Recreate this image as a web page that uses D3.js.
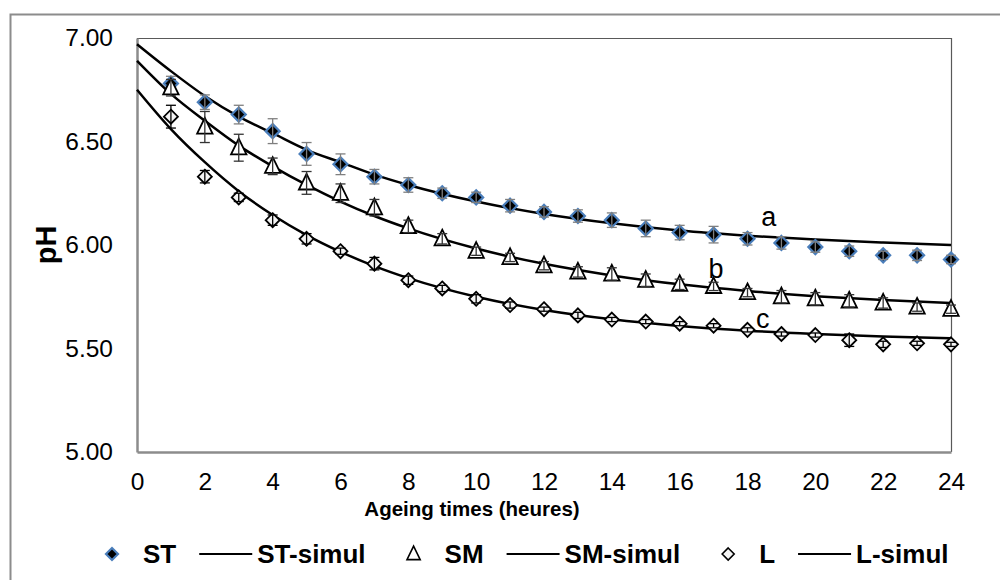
<!DOCTYPE html>
<html>
<head>
<meta charset="utf-8">
<script src="https://cdn.jsdelivr.net/npm/d3@7/dist/d3.min.js"></script>
<style>
	body { margin: 0; background: #fff; }
	svg { display: block; font-family: 'Liberation Sans', Arial, sans-serif; }
</style>
</head>
<body>
<svg id="chart" width="1000" height="580"></svg>
<script>
// measured hours
const hours = d3.range(1, 25);

// observed pH (means) and error bars
const stValues = [6.78, 6.69, 6.63, 6.55, 6.44, 6.39, 6.33, 6.29, 6.25, 6.23, 6.19, 6.16, 6.14, 6.12, 6.08, 6.06, 6.05, 6.03, 6.01, 5.99, 5.97, 5.95, 5.95, 5.93];
const stErr = [0.035, 0.035, 0.045, 0.06, 0.055, 0.05, 0.035, 0.035, 0.025, 0.025, 0.03, 0.025, 0.03, 0.035, 0.04, 0.035, 0.04, 0.03, 0.03, 0.025, 0.025, 0.02, 0.025, 0.02];

const smValues = [6.76, 6.57, 6.47, 6.38, 6.30, 6.25, 6.18, 6.09, 6.03, 5.97, 5.94, 5.90, 5.87, 5.86, 5.83, 5.81, 5.80, 5.77, 5.75, 5.74, 5.73, 5.72, 5.70, 5.69];
const smErr = [0.04, 0.075, 0.065, 0.04, 0.055, 0.045, 0.04, 0.03, 0.025, 0.02, 0.02, 0.02, 0.025, 0.03, 0.03, 0.025, 0.02, 0.02, 0.03, 0.03, 0.03, 0.025, 0.02, 0.02];

const lValues = [6.62, 6.33, 6.23, 6.12, 6.03, 5.97, 5.91, 5.83, 5.79, 5.74, 5.71, 5.69, 5.66, 5.64, 5.63, 5.62, 5.61, 5.59, 5.57, 5.565, 5.54, 5.52, 5.525, 5.52];
const lErr = [0.055, 0.03, 0.02, 0.025, 0.025, 0.015, 0.03, 0.02, 0.015, 0.02, 0.015, 0.01, 0.015, 0.01, 0.01, 0.01, 0.01, 0.01, 0.01, 0.01, 0.03, 0.015, 0.01, 0.01];

// simulated curves
const simHours = [0, 1, 2, 3, 4, 5, 6, 7, 8, 10, 12, 14, 16, 18, 20, 22, 24];
const stSimul = [6.97, 6.84, 6.72, 6.62, 6.54, 6.46, 6.40, 6.34, 6.29, 6.21, 6.15, 6.105, 6.07, 6.045, 6.026, 6.012, 6.00];
const smSimul = [6.89, 6.73, 6.60, 6.48, 6.38, 6.29, 6.21, 6.14, 6.08, 5.983, 5.909, 5.853, 5.81, 5.778, 5.753, 5.734, 5.72];
const lSimul = [6.75, 6.56, 6.40, 6.26, 6.145, 6.048, 5.967, 5.898, 5.84, 5.75, 5.686, 5.641, 5.609, 5.586, 5.57, 5.558, 5.55];

const xTicks = d3.range(0, 25, 2);
const yTicks = [5.0, 5.5, 6.0, 6.5, 7.0];

// letters next to the curves (position = hour, pH of the baseline)
const curveLabels = [
	{ text: 'a', hour: 18.63, value: 6.09 },
	{ text: 'b', hour: 17.07, value: 5.84 },
	{ text: 'c', hour: 18.45, value: 5.60 },
];

const series = [
	{ name: 'ST', values: stValues, err: stErr, symbol: 'diamond', fill: '#000', stroke: '#4a7ebb', errColor: '#7f7f7f' },
	{ name: 'SM', values: smValues, err: smErr, symbol: 'triangle', fill: '#fff', stroke: '#000', errColor: '#333' },
	{ name: 'L', values: lValues, err: lErr, symbol: 'diamond', fill: '#f4f4f4', stroke: '#000', errColor: '#000' },
];
const simulSeries = [
	{ name: 'ST-simul', values: stSimul },
	{ name: 'SM-simul', values: smSimul },
	{ name: 'L-simul', values: lSimul },
];

const svg = d3.select('#chart');
const plot = { left: 137, top: 38, right: 951, bottom: 452 };

const x = d3.scaleLinear().domain([0, 24]).range([plot.left, plot.right]);
const y = d3.scaleLinear().domain([5, 7]).range([plot.bottom, plot.top]);

// outer chart frame
svg.append('rect')
	.attr('x', 10.5).attr('y', 14.5)
	.attr('width', 1000).attr('height', 600)
	.attr('fill', 'none')
	.attr('stroke', '#8c8c8c')
	.attr('stroke-width', 2);

// plot area frame: thin top/right, heavier left/bottom axis lines
svg.append('path')
	.attr('d', `M${plot.left},${plot.top + 0.5}H${plot.right + 0.5}V${plot.bottom}`)
	.attr('fill', 'none')
	.attr('stroke', '#595959')
	.attr('stroke-width', 1.2);

// axes
const yAxis = svg.append('g')
	.attr('transform', `translate(${plot.left},0)`)
	.call(d3.axisLeft(y).tickValues(yTicks).tickFormat(d3.format('.2f')).tickSize(0).tickPadding(24));
const xAxis = svg.append('g')
	.attr('transform', `translate(0,${plot.bottom})`)
	.call(d3.axisBottom(x).tickValues(xTicks).tickFormat(d3.format('d')).tickSize(0).tickPadding(21));

[yAxis, xAxis].forEach((ax) => {
	ax.select('.domain').attr('stroke', '#8c8c8c').attr('stroke-width', 2.5);
	ax.selectAll('text')
		.attr('font-family', "'Liberation Sans', Arial, sans-serif")
		.attr('font-size', 24.5)
		.attr('fill', '#000');
});

// axis titles
svg.append('text')
	.attr('transform', 'translate(56,245) rotate(-90)')
	.attr('text-anchor', 'middle')
	.attr('font-size', 29)
	.attr('font-weight', 'bold')
	.text('pH');

svg.append('text')
	.attr('x', 472)
	.attr('y', 516)
	.attr('text-anchor', 'middle')
	.attr('font-size', 20.5)
	.attr('font-weight', 'bold')
	.text('Ageing times (heures)');

// simulated curves
const line = d3.line()
	.x((d, i) => x(simHours[i]))
	.y((d) => y(d))
	.curve(d3.curveMonotoneX);

svg.append('g')
	.selectAll('.simul')
	.data(simulSeries)
	.join('path')
	.attr('class', 'simul')
	.attr('d', (s) => line(s.values))
	.attr('fill', 'none')
	.attr('stroke', '#000')
	.attr('stroke-width', 2.5);

// markers
function symbolPath(type, size) {
	if (type === 'triangle') {
		const h = size * 1.05;
		return `M0,${-h * 0.62}L${size * 0.55},${h * 0.45}L${-size * 0.55},${h * 0.45}Z`;
	}
	return `M0,${-size / 2}L${size / 2},0L0,${size / 2}L${-size / 2},0Z`;
}

const groups = svg.append('g')
	.selectAll('.series')
	.data(series)
	.join('g')
	.attr('class', 'series');

groups.selectAll('.marker')
	.data((s) => s.values.map((v, i) => ({ s, hour: hours[i], v })))
	.join('path')
	.attr('class', 'marker')
	.attr('transform', (d) => `translate(${x(d.hour)},${y(d.v)})`)
	.attr('d', (d) => symbolPath(d.s.symbol, 14))
	.attr('fill', (d) => d.s.fill)
	.attr('stroke', (d) => d.s.stroke)
	.attr('stroke-width', (d) => (d.s.name === 'ST' ? 2.2 : 1.8));

// error bars on top of markers
const errBars = groups.selectAll('.err')
	.data((s) => s.values.map((v, i) => ({ s, hour: hours[i], v, e: s.err[i] })))
	.join('g')
	.attr('class', 'err')
	.attr('stroke', (d) => d.s.errColor)
	.attr('stroke-width', 1.3);

errBars.append('line')
	.attr('x1', (d) => x(d.hour)).attr('x2', (d) => x(d.hour))
	.attr('y1', (d) => y(d.v + d.e)).attr('y2', (d) => y(d.v - d.e));
errBars.selectAll('.cap')
	.data((d) => [d.v + d.e, d.v - d.e].map((val) => ({ hour: d.hour, val })))
	.join('line')
	.attr('class', 'cap')
	.attr('x1', (d) => x(d.hour) - 5).attr('x2', (d) => x(d.hour) + 5)
	.attr('y1', (d) => y(d.val)).attr('y2', (d) => y(d.val));

// curve letters
svg.append('g')
	.selectAll('text')
	.data(curveLabels)
	.join('text')
	.attr('x', (d) => x(d.hour))
	.attr('y', (d) => y(d.value))
	.attr('text-anchor', 'middle')
	.attr('font-size', 27)
	.text((d) => d.text);

// legend
const legendItems = [
	{ label: 'ST', kind: 'marker', s: series[0] },
	{ label: 'ST-simul', kind: 'line' },
	{ label: 'SM', kind: 'marker', s: series[1] },
	{ label: 'SM-simul', kind: 'line' },
	{ label: 'L', kind: 'marker', s: series[2] },
	{ label: 'L-simul', kind: 'line' },
];

const legend = svg.append('g').attr('transform', 'translate(0,554)');
let cursor = 105;
legendItems.forEach((item) => {
	const g = legend.append('g').attr('transform', `translate(${cursor},0)`);
	let textX;
	if (item.kind === 'marker') {
		g.append('path')
			.attr('transform', 'translate(7,0)')
			.attr('d', symbolPath(item.s.symbol, 12))
			.attr('fill', item.s.name === 'SM' ? '#fff' : item.s.fill)
			.attr('stroke', item.s.stroke)
			.attr('stroke-width', item.s.name === 'ST' ? 2.2 : 1.6);
		textX = 38;
	} else {
		g.append('line')
			.attr('x1', 0).attr('x2', 53)
			.attr('stroke', '#000')
			.attr('stroke-width', 2.2);
		textX = 58;
	}
	const t = g.append('text')
		.attr('x', textX)
		.attr('dy', '0.36em')
		.attr('font-size', 26)
		.attr('font-weight', 'bold')
		.text(item.label);
	cursor += textX + t.node().getComputedTextLength() + (item.kind === 'marker' ? 23 : 41);
});
</script>
</body>
</html>
